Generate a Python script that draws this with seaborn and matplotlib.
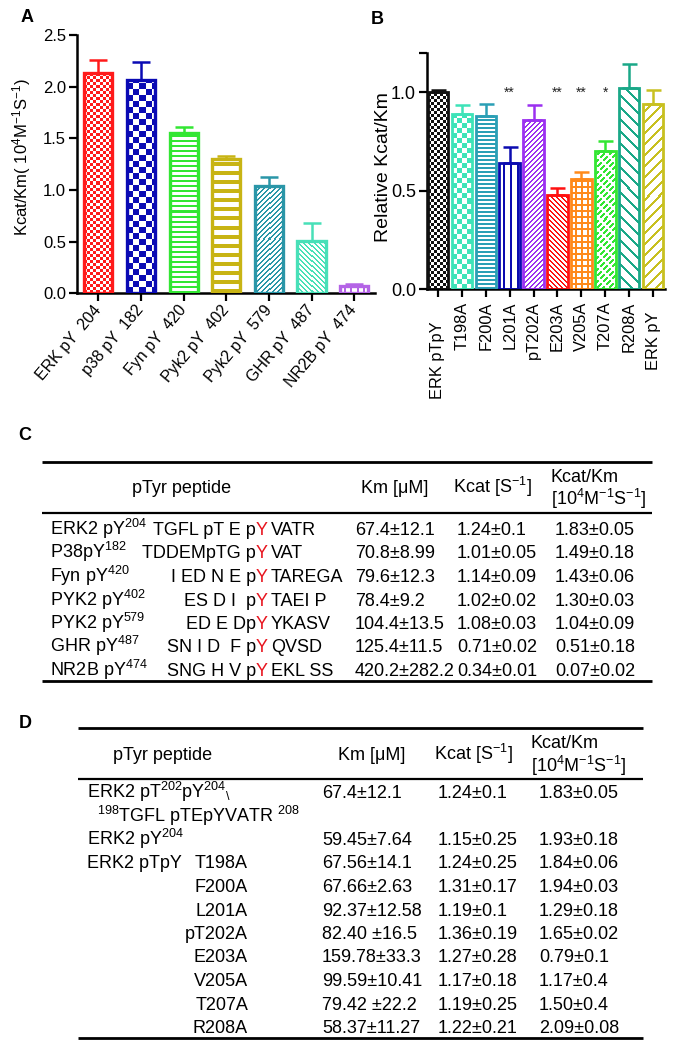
import numpy as np
import pandas as pd
import seaborn as sns
import matplotlib.pyplot as plt
import matplotlib.colors as mcolors
from matplotlib.transforms import ScaledTranslation


sns.set_theme(style="ticks")
plt.rcParams["font.family"] = ["Liberation Sans", "DejaVu Sans"]
plt.rcParams["mathtext.default"] = "regular"
for key in ["text.color", "axes.labelcolor", "xtick.color", "ytick.color"]:
    plt.rcParams[key] = "black"

W, H = 682, 1047

# ---- panel A: Kcat/Km for pTyr peptides ----
a_labels = ["ERK pY  204", "p38 pY  182", "Fyn pY  420", "Pyk2 pY  402",
            "Pyk2 pY  579", "GHR pY  487", "NR2B pY  474"]
a_values = [2.13, 2.06, 1.55, 1.30, 1.04, 0.51, 0.07]
a_errors = [0.13, 0.18, 0.06, 0.03, 0.09, 0.17, 0.02]
a_colors = ["#ff1a1a", "#0a0ab4", "#33e633", "#c8b414", "#2a96a8", "#48e0b8", "#b464e6"]
a_patterns = [("checker", 3, 0), ("checker", 6, 0), ("hlines", 5, 2), ("hlines", 9, 4),
              ("diag", 5, 2), ("anti", 5, 2), ("dots", 6, 4)]

# ---- panel B: relative Kcat/Km for ERK2 mutants ----
b_labels = ["ERK pTpY", "T198A", "F200A", "L201A", "pT202A", "E203A",
            "V205A", "T207A", "R208A", "ERK pY"]
b_values = [1.00, 0.89, 0.88, 0.64, 0.86, 0.48, 0.56, 0.70, 1.02, 0.94]
b_errors = [0.01, 0.045, 0.06, 0.08, 0.075, 0.035, 0.035, 0.05, 0.125, 0.07]
b_stars = ["", "", "", "**", "", "**", "**", "*", "", ""]
b_colors = ["#111111", "#3de3b8", "#2a9fb5", "#0b0bb0", "#9b30f0", "#ff1010",
            "#ff8a1a", "#33e633", "#1aa888", "#c8c020"]
b_patterns = [("checker", 3, 0), ("checker", 5, 0), ("hlines", 4, 2), ("vlines", 7, 2),
              ("diag", 5, 2), ("anti", 5, 2), ("dots", 6, 4), ("dashdiag", 6, 3),
              ("anti", 12, 3), ("diag", 11, 3)]
b_label_drop = {"ERK pTpY": 14, "ERK pY": 7}

# ---- table C ----
c_names = ["ERK2 pY$^{204}$", "P38pY$^{182}$", "Fyn pY$^{420}$", "PYK2 pY$^{402}$",
           "PYK2 pY$^{579}$", "GHR pY$^{487}$", "NR2B pY$^{474}$"]
c_seq_left = ["TGFL pT E p", "TDDEMpTG p", "I ED N E p", "ES D I  p",
              "ED E Dp", "SN I D  F p", "SNG H V p"]
c_seq_right = ["VATR", "VAT", "TAREGA", "TAEI P", "YKASV", "QVSD", "EKL SS"]
c_km = ["67.4±12.1", "70.8±8.99", "79.6±12.3", "78.4±9.2", "104.4±13.5",
        "125.4±11.5", "420.2±282.2"]
c_kcat = ["1.24±0.1", "1.01±0.05", "1.14±0.09", "1.02±0.02", "1.08±0.03",
          "0.71±0.02", "0.34±0.01"]
c_ratio = ["1.83±0.05", "1.49±0.18", "1.43±0.06", "1.30±0.03", "1.04±0.09",
           "0.51±0.18", "0.07±0.02"]

# ---- table D ----
d_names = ["ERK2 pT$^{202}$pY$^{204}$$_{\\backslash}$",
           "$^{198}$TGFL pTEpYVATR $^{208}$",
           "ERK2 pY$^{204}$", "ERK2 pTpY", "", "", "", "", "", "", ""]
d_mut = ["", "", "", "T198A", "F200A", "L201A", "pT202A", "E203A", "V205A",
         "T207A", "R208A"]
d_km = ["67.4±12.1", "", "59.45±7.64", "67.56±14.1", "67.66±2.63", "92.37±12.58",
        "82.40 ±16.5", "159.78±33.3", "99.59±10.41", "79.42 ±22.2", "58.37±11.27"]
d_kcat = ["1.24±0.1", "", "1.15±0.25", "1.24±0.25", "1.31±0.17", "1.19±0.1",
          "1.36±0.19", "1.27±0.28", "1.17±0.18", "1.19±0.25", "1.22±0.21"]
d_ratio = ["1.83±0.05", "", "1.93±0.18", "1.84±0.06", "1.94±0.03", "1.29±0.18",
           "1.65±0.02", "0.79±0.1", "1.17±0.4", "1.50±0.4", "2.09±0.08"]


def px_axes(fig, left, top, right, bottom):
    return fig.add_axes([left / W, 1 - bottom / H, (right - left) / W, (bottom - top) / H])


def pattern_mask(kind, nh, nw, p, t):
    i, j = np.indices((nh, nw))
    if kind == "checker":
        return ((i // p + j // p) % 2) == 0
    if kind == "dots":
        return ~((i % p < t) & (j % p < t))
    if kind == "hlines":
        return (i % p) < t
    if kind == "vlines":
        return ((j + p // 2) % p) < t
    if kind == "diag":
        return ((j - i) % p) < t
    if kind == "anti":
        return ((j + i) % p) < t
    if kind == "dashdiag":
        return (((j - i) % p) < t) & (((i + j) % (2 * p)) >= 3)
    return np.ones((nh, nw), dtype=bool)


def texture_bars(ax, colors, patterns, lw):
    """Fill each bar with a pixel pattern (GraphPad style) clipped to the bar."""
    for patch, color, (kind, p, t) in zip(ax.patches, colors, patterns):
        x0, y0 = patch.get_x(), patch.get_y()
        w, h = patch.get_width(), patch.get_height()
        (px0, py0), (px1, py1) = ax.transData.transform([(x0, y0), (x0 + w, y0 + h)])
        nw = max(int(round(px1 - px0)), 1)
        nh = max(int(round(py1 - py0)), 1)
        img = np.ones((nh, nw, 3))
        img[pattern_mask(kind, nh, nw, p, t)] = mcolors.to_rgb(color)
        im = ax.imshow(img, extent=(x0, x0 + w, y0, y0 + h), origin="lower",
                       interpolation="nearest", aspect="auto", zorder=2)
        im.set_clip_path(patch)
        patch.set_facecolor("none")
        patch.set_edgecolor(color)
        patch.set_linewidth(lw)
        patch.set_zorder(3)


def style_axis(ax):
    sns.despine(ax=ax)
    for side in ["left", "bottom"]:
        ax.spines[side].set_linewidth(1.8)
        ax.spines[side].set_color("black")
    ax.tick_params(direction="out", length=6, width=1.6, color="black", pad=2)


def bar_panel(ax, labels, values, errors, colors, patterns, width, lw, capsize, xlim, ylim):
    df = pd.DataFrame({"label": labels, "value": values})
    sns.barplot(data=df, x="label", y="value", hue="label", palette=colors,
                width=width, legend=False, errorbar=None, ax=ax)
    ax.set_xlim(*xlim)
    ax.set_ylim(*ylim)
    texture_bars(ax, colors, patterns, lw)
    for x, (v, e, c) in enumerate(zip(values, errors, colors)):
        ax.errorbar(x, v, yerr=[[0], [e]], fmt="none", ecolor=c, elinewidth=1.8,
                    capsize=capsize, capthick=1.8, zorder=2.5)
    ax.set_xlim(*xlim)
    ax.set_ylim(*ylim)
    ax.set_xlabel("")
    style_axis(ax)


fig = plt.figure(figsize=(W / 100, H / 100), dpi=100)

# tables drawn in pixel coordinates on a full-figure overlay
ax_t = fig.add_axes([0, 0, 1, 1])
ax_t.set_xlim(0, W)
ax_t.set_ylim(H, 0)
ax_t.axis("off")

# ---- A ----
ax_a = px_axes(fig, 77, 35, 375.5, 293.3)
bar_panel(ax_a, a_labels, a_values, a_errors, a_colors, a_patterns,
          width=0.66, lw=2.4, capsize=6.8, xlim=(-0.5, 6.5), ylim=(0, 2.5))
ax_a.set_yticks(np.arange(0, 2.51, 0.5))
ax_a.set_yticklabels([f"{v:.1f}" for v in np.arange(0, 2.51, 0.5)], fontsize=12)
ax_a.set_xticks(range(len(a_labels)))
ax_a.set_xticklabels(a_labels, rotation=50, ha="right", va="center",
                     rotation_mode="anchor", fontsize=11.5)
ax_a.tick_params(axis="x", pad=4)
ax_a.set_ylabel("Kcat/Km( 10$^4$M$^{-1}$S$^{-1}$)", fontsize=12)
ax_a.yaxis.set_label_coords(-0.147, 0.528)

# ---- B ----
ax_b = px_axes(fig, 427, 52.7, 665, 289.3)
bar_panel(ax_b, b_labels, b_values, b_errors, b_colors, b_patterns,
          width=0.86, lw=2.0, capsize=5.4, xlim=(-0.46, 9.5), ylim=(0, 1.2))
ax_b.set_yticks([0, 0.5, 1.0, 1.2])
ax_b.set_yticklabels(["0.0", "0.5", "1.0", ""], fontsize=13)
ax_b.set_xticks(range(len(b_labels)))
ax_b.set_xticklabels(b_labels, rotation=90, fontsize=11.8)
ax_b.tick_params(axis="x", pad=3)
for lab in ax_b.get_xticklabels():
    drop = b_label_drop.get(lab.get_text(), 0)
    if drop:
        lab.set_transform(lab.get_transform() + ScaledTranslation(0, -drop / 72, fig.dpi_scale_trans))
ax_b.set_ylabel("Relative Kcat/Km", fontsize=14)
ax_b.yaxis.set_label_coords(-0.147, 0.515)
for x, s in enumerate(b_stars):
    if s:
        ax_b.text(x, 0.975, s, ha="center", va="baseline", fontsize=10, color="#222222")

# ---- panel letters ----
for letter, (x, y) in zip("ABCD", [(27, 18), (377, 20), (25, 435), (25, 723)]):
    ax_t.text(x, y, letter, ha="center", va="center", fontsize=13, fontweight="bold")

FS = 13
ROW = 23.5

# ---- table C ----
ax_t.hlines(462, 42, 652, color="black", lw=2.0)
ax_t.hlines(512.7, 42, 652, color="black", lw=1.6)
ax_t.hlines(681, 42, 652, color="black", lw=2.0)
ax_t.text(182, 493, "pTyr peptide", ha="center", va="baseline", fontsize=FS)
ax_t.text(395, 493, "Km [μM]", ha="center", va="baseline", fontsize=FS)
ax_t.text(492, 493, "Kcat [S$^{-1}$]", ha="center", va="baseline", fontsize=FS)
ax_t.text(551, 481.7, "Kcat/Km", ha="left", va="baseline", fontsize=FS)
ax_t.text(551, 505, "[10$^4$M$^{-1}$S$^{-1}$]", ha="left", va="baseline", fontsize=FS)
for k in range(len(c_names)):
    yb = 535 + k * ROW
    ax_t.text(50, yb, c_names[k], ha="left", va="baseline", fontsize=FS)
    ax_t.text(256, yb, c_seq_left[k], ha="right", va="baseline", fontsize=FS)
    ax_t.text(256, yb, "Y", ha="left", va="baseline", fontsize=FS, color="#e8141e")
    ax_t.text(271, yb, c_seq_right[k], ha="left", va="baseline", fontsize=FS)
    ax_t.text(355, yb, c_km[k], ha="left", va="baseline", fontsize=FS)
    ax_t.text(457, yb, c_kcat[k], ha="left", va="baseline", fontsize=FS)
    ax_t.text(555, yb, c_ratio[k], ha="left", va="baseline", fontsize=FS)

# ---- table D ----
ax_t.hlines(728, 78, 643, color="black", lw=2.0)
ax_t.hlines(779, 78, 643, color="black", lw=1.6)
ax_t.hlines(1038, 78, 643, color="black", lw=2.0)
ax_t.text(163, 760, "pTyr peptide", ha="center", va="baseline", fontsize=FS)
ax_t.text(372, 760, "Km [μM]", ha="center", va="baseline", fontsize=FS)
ax_t.text(473, 760, "Kcat [S$^{-1}$]", ha="center", va="baseline", fontsize=FS)
ax_t.text(531, 748, "Kcat/Km", ha="left", va="baseline", fontsize=FS)
ax_t.text(531, 771.7, "[10$^4$M$^{-1}$S$^{-1}$]", ha="left", va="baseline", fontsize=FS)
for k in range(len(d_names)):
    yb = 798 + k * ROW
    ax_t.text(97 if k == 1 else 87, yb, d_names[k], ha="left", va="baseline", fontsize=FS)
    ax_t.text(248, yb, d_mut[k], ha="right", va="baseline", fontsize=FS)
    ax_t.text(322, yb, d_km[k], ha="left", va="baseline", fontsize=FS)
    ax_t.text(438, yb, d_kcat[k], ha="left", va="baseline", fontsize=FS)
    ax_t.text(539, yb, d_ratio[k], ha="left", va="baseline", fontsize=FS)

fig.savefig("out.png", dpi=100)
plt.close(fig)
